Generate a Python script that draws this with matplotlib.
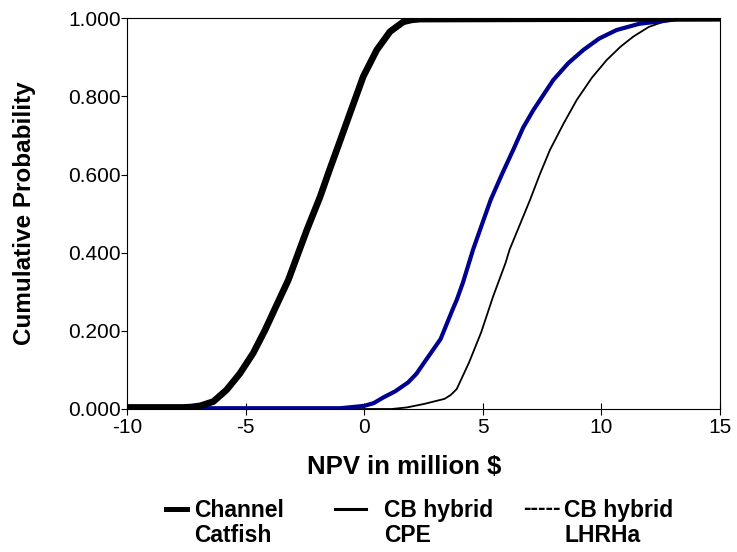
import numpy as np
import matplotlib
matplotlib.use('Agg')
import matplotlib.pyplot as plt
from matplotlib.lines import Line2D

plt.rcParams['font.family'] = ['Liberation Sans', 'DejaVu Sans']
plt.rcParams['axes.unicode_minus'] = False

# ── Datos ─────────────────────────────────────────────────────────────────────
catfish_x = [-10, -7.63, -7.3, -6.92, -6.36, -5.80, -5.24, -4.68, -4.18, -3.70,
             -3.20, -2.42, -1.86, -1.45, -1.02, -0.60, -0.04, 0.53, 1.09, 1.65,
             2.0, 2.35, 15]
catfish_y = [0.004, 0.004, 0.005, 0.008, 0.019, 0.049, 0.091, 0.143, 0.202, 0.265,
             0.330, 0.458, 0.543, 0.614, 0.686, 0.757, 0.851, 0.919, 0.966, 0.991,
             0.996, 0.998, 1.0]

cpe_x = [-10, -1, 0, 0.4, 0.82, 1.3, 1.85, 2.2, 2.53, 3.22, 3.73, 3.90, 4.16,
         4.59, 4.95, 5.33, 5.8, 6.28, 6.7, 7.13, 7.97, 8.6, 9.24, 9.9, 10.64,
         11.6, 12.75, 13.3, 15]
cpe_y = [0.002, 0.002, 0.008, 0.015, 0.03, 0.045, 0.068, 0.09, 0.119, 0.179,
         0.255, 0.279, 0.323, 0.408, 0.47, 0.535, 0.60, 0.663, 0.72, 0.765,
         0.842, 0.885, 0.919, 0.948, 0.970, 0.986, 0.994, 1.0, 1.0]

lhrha_x = [-10, 1.16, 1.8, 2.53, 3.39, 3.65, 3.90, 4.42, 4.93, 5.44, 5.96, 6.13,
           6.55, 6.99, 7.4, 7.83, 8.4, 8.96, 9.6, 10.22, 10.8, 11.34, 12.0,
           12.75, 13.3, 15]
lhrha_y = [0.0, 0.0, 0.004, 0.013, 0.026, 0.036, 0.051, 0.119, 0.196, 0.289,
           0.374, 0.408, 0.47, 0.535, 0.60, 0.663, 0.73, 0.791, 0.848, 0.893,
           0.927, 0.953, 0.978, 0.994, 1.0, 1.0]

series_labels = ['Channel\nCatfish', 'CB hybrid\nCPE', 'CB hybrid\nLHRHa']
x_ticks = [-10, -5, 0, 5, 10, 15]
y_ticks = [0.0, 0.2, 0.4, 0.6, 0.8, 1.0]

# ── Figura ────────────────────────────────────────────────────────────────────
W, H = 737, 552
fig = plt.figure(figsize=(W / 100, H / 100), dpi=100)
ax = fig.add_axes([127 / W, 1 - 409 / H, 593 / W, 390.7 / H])

ax.plot(lhrha_x, lhrha_y, color='black', linewidth=1.3, zorder=2)
ax.plot(cpe_x, cpe_y, color='#00008F', linewidth=3.0, zorder=3)
ax.plot(catfish_x, catfish_y, color='black', linewidth=4.8, zorder=4)

ax.set_xlim(-10, 15)
ax.set_ylim(0, 1)
ax.set_xticks(x_ticks)
ax.set_xticklabels([str(v) for v in x_ticks])
ax.set_yticks(y_ticks)
ax.set_yticklabels([f'{v:.3f}' for v in y_ticks])
ax.tick_params(axis='x', direction='inout', length=9, width=0.8, labelsize=15, pad=2)
ax.tick_params(axis='y', direction='out', length=4, width=0.8, labelsize=15, pad=0.5)
for s in ax.spines.values():
    s.set_linewidth(0.8)

ax.set_xlabel('NPV in million $', fontsize=18.5, fontweight='bold')
ax.xaxis.set_label_coords((404.5 - 127) / 593, -(467 - 409) / 390.7)
ax.xaxis.label.set_va('center')
ax.set_ylabel('Cumulative Probability', fontsize=17.5, fontweight='bold')
ax.yaxis.set_label_coords(-(127 - 25) / 593, 0.5)
ax.yaxis.label.set_va('center')

# ── Leyenda (dibujada a mano, como en el original) ────────────────────────────
def fx(px):
    return px / W

def fy(py):
    return 1 - py / H

leg_y = 509
fig.add_artist(Line2D([fx(166), fx(187)], [fy(leg_y), fy(leg_y)],
                      color='black', linewidth=3.6, transform=fig.transFigure))
fig.add_artist(Line2D([fx(335), fx(366)], [fy(leg_y), fy(leg_y)],
                      color='black', linewidth=2.2, transform=fig.transFigure))
fig.text(fx(523), fy(leg_y), '-----', fontsize=16.5, fontweight='bold',
         ha='left', va='center')
for left, lab in zip([194, 384, 564], series_labels):
    fig.text(fx(left), fy(499), lab, fontsize=16.5, fontweight='bold',
             ha='left', va='top', linespacing=1.1)

fig.savefig('out.png', dpi=100)
